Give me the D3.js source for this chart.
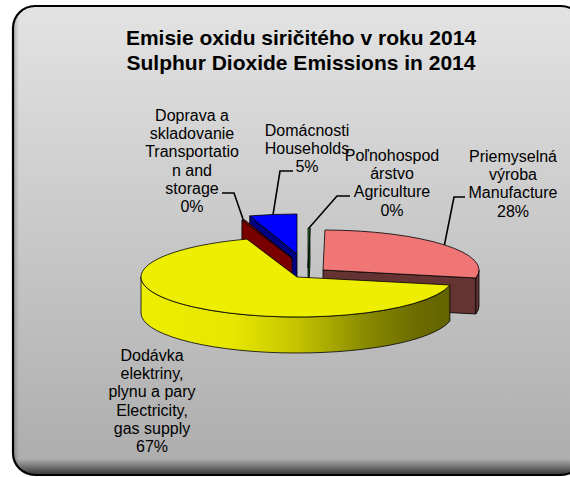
<!DOCTYPE html>
<html lang="en">
<head>
<meta charset="utf-8">
<title>Emisie oxidu siričitého 2014</title>
<script src="https://cdn.jsdelivr.net/npm/d3@7"></script>
<style>
  body { margin: 0; background: #fff; }
  text { font-family: "Liberation Sans", Arial, sans-serif; }
</style>
</head>
<body>
<script>
// data, clockwise from 12 o'clock
var titleLines = ["Emisie oxidu siričitého v roku 2014", "Sulphur Dioxide Emissions in 2014"];
var sectors = ["agriculture", "manufacture", "electricity", "transport", "households"];
var shares = [0.2, 28.0, 66.6, 0.3, 4.9];
var labelLines = [
    ["Poľnohospod", "árstvo", "Agriculture"],
    ["Priemyselná", "výroba", "Manufacture"],
    ["Dodávka", "elektriny,", "plynu a pary", "Electricity,", "gas supply"],
    ["Doprava a", "skladovanie", "Transportatio", "n and", "storage"],
    ["Domácnosti", "Households"]
];

// styling / layout
var w = 570, h = 477;
var cx = 297, cy = 277, rx = 156, ry = 40, depth = 36;
var style = {
    agriculture: {top: "#2e8b2e", side: "#005a00", off: [11, -9], lx: 392, ly: 161, leader: [[350, 196], [337, 196]]},
    manufacture: {top: "#f07676", side: "#663333", off: [26, -7], lx: 513, ly: 162, leader: [[465, 197], [454, 197]]},
    electricity: {top: "#eeee00", side: "url(#wallY)", off: [0, 0], lx: 152, ly: 361, leader: null},
    transport:   {top: "#8a0000", side: "#7a0000", off: [-5, -19], lx: 192, ly: 121, leader: [[222, 193], [234, 193]]},
    households:  {top: "#0000ff", side: "#000080", off: [0, -23], lx: 307, ly: 136, leader: [[293, 171], [280, 171]]}
};
var lineH = 18.2;

var svg = d3.select("body").append("svg")
    .attr("width", w)
    .attr("height", h);

var defs = svg.append("defs");
var bg = defs.append("linearGradient").attr("id", "bg")
    .attr("x1", 0).attr("y1", 0).attr("x2", 0).attr("y2", 1);
bg.append("stop").attr("offset", "0%").attr("stop-color", "#e3e3e3");
bg.append("stop").attr("offset", "100%").attr("stop-color", "#acacac");

var shade = defs.append("linearGradient").attr("id", "shade")
    .attr("x1", 0).attr("y1", 0).attr("x2", 0).attr("y2", 1);
shade.append("stop").attr("offset", "0%").attr("stop-color", "#000").attr("stop-opacity", 0);
shade.append("stop").attr("offset", "100%").attr("stop-color", "#000").attr("stop-opacity", 0.7);

var shadeL = defs.append("linearGradient").attr("id", "shadeL")
    .attr("x1", 0).attr("y1", 0).attr("x2", 1).attr("y2", 0);
shadeL.append("stop").attr("offset", "0%").attr("stop-color", "#000").attr("stop-opacity", 0.25);
shadeL.append("stop").attr("offset", "100%").attr("stop-color", "#000").attr("stop-opacity", 0);

var wallY = defs.append("linearGradient").attr("id", "wallY")
    .attr("gradientUnits", "userSpaceOnUse")
    .attr("x1", cx - rx).attr("y1", 0).attr("x2", cx + rx).attr("y2", 0);
[[0, "#eeee00"], [0.3, "#e6e600"], [0.5, "#c4c400"], [0.72, "#8a8a00"], [0.88, "#6c6c00"], [1, "#626200"]]
    .forEach(function(s) {
        wallY.append("stop").attr("offset", s[0]).attr("stop-color", s[1]);
    });

defs.append("clipPath").attr("id", "frameClip")
    .append("rect").attr("x", 13).attr("y", 6).attr("width", 570).attr("height", 469).attr("rx", 22);

// frame
svg.append("rect")
    .attr("x", 13).attr("y", 6).attr("width", 570).attr("height", 469).attr("rx", 22)
    .attr("fill", "url(#bg)");
var sh = svg.append("g").attr("clip-path", "url(#frameClip)");
sh.append("rect").attr("x", 13).attr("y", 459).attr("width", 570).attr("height", 16).attr("fill", "url(#shade)");
sh.append("rect").attr("x", 13).attr("y", 6).attr("width", 6).attr("height", 469).attr("fill", "url(#shadeL)");
svg.append("rect")
    .attr("x", 13).attr("y", 6).attr("width", 570).attr("height", 469).attr("rx", 22)
    .attr("fill", "none").attr("stroke", "#000").attr("stroke-width", 2.2);

// title
svg.selectAll("text.title")
    .data(titleLines)
    .enter()
    .append("text")
    .attr("class", "title")
    .attr("x", 301)
    .attr("y", function(d, i) { return 45 + i * 25; })
    .attr("text-anchor", "middle")
    .attr("font-size", "21px")
    .attr("font-weight", "bold")
    .attr("fill", "#000")
    .text(function(d) { return d; });

// pie geometry
var total = d3.sum(shares);
var arcs = d3.pie().sort(null).value(function(d) { return d; })(shares);

function pt(c, a) {
    return [c[0] + rx * Math.sin(a), c[1] - ry * Math.cos(a)];
}
function down(p) { return [p[0], p[1] + depth]; }

function topPath(c, a0, a1) {
    var p0 = pt(c, a0), p1 = pt(c, a1);
    var large = (a1 - a0) > Math.PI ? 1 : 0;
    return "M" + c + "L" + p0 + "A" + rx + "," + ry + " 0 " + large + " 1 " + p1 + "Z";
}
function wallPath(c, b0, b1) {
    var p0 = pt(c, b0), p1 = pt(c, b1);
    var large = (b1 - b0) > Math.PI ? 1 : 0;
    return "M" + p0 + "A" + rx + "," + ry + " 0 " + large + " 1 " + p1 +
        "L" + down(p1) + "A" + rx + "," + ry + " 0 " + large + " 0 " + down(p0) + "Z";
}
function facePath(c, a) {
    var p = pt(c, a);
    return "M" + c + "L" + p + "L" + down(p) + "L" + down(c) + "Z";
}

var slices = arcs.map(function(a, i) {
    var st = style[sectors[i]];
    var c = [cx + st.off[0], cy + st.off[1]];
    var mid = (a.startAngle + a.endAngle) / 2;
    return {i: i, a0: a.startAngle, a1: a.endAngle, c: c, mid: mid, st: st, rim: pt(c, mid)};
});

var order = slices.slice().sort(function(a, b) { return a.rim[1] - b.rim[1]; });

var pie = svg.append("g");
order.forEach(function(s) {
    var g = pie.append("g");
    var stroke = "#000", sw = 0.8;
    // radial faces
    if (Math.sin(s.a0) < -1e-6) {
        g.append("path").attr("d", facePath(s.c, s.a0))
            .attr("fill", s.st.side).attr("stroke", stroke).attr("stroke-width", sw).attr("stroke-linejoin", "round");
    }
    if (Math.sin(s.a1) > 1e-6) {
        g.append("path").attr("d", facePath(s.c, s.a1))
            .attr("fill", s.st.side).attr("stroke", stroke).attr("stroke-width", sw).attr("stroke-linejoin", "round");
    }
    // outer wall, front half only
    var b0 = Math.max(s.a0, Math.PI / 2), b1 = Math.min(s.a1, 3 * Math.PI / 2);
    if (b1 > b0) {
        g.append("path").attr("d", wallPath(s.c, b0, b1))
            .attr("fill", s.st.side).attr("stroke", stroke).attr("stroke-width", sw).attr("stroke-linejoin", "round");
    }
    g.append("path").attr("d", topPath(s.c, s.a0, s.a1))
        .attr("fill", s.st.top).attr("stroke", stroke).attr("stroke-width", sw).attr("stroke-linejoin", "round");
});

// leader lines
slices.forEach(function(s) {
    if (!s.st.leader) return;
    var pts = s.st.leader.concat([s.rim]);
    svg.append("polyline")
        .attr("points", pts.map(function(p) { return p.join(","); }).join(" "))
        .attr("fill", "none")
        .attr("stroke", "#000")
        .attr("stroke-width", 1.6);
});

// labels
slices.forEach(function(s) {
    var lines = labelLines[s.i].concat([Math.round(shares[s.i] / total * 100) + "%"]);
    var t = svg.append("text")
        .attr("text-anchor", "middle")
        .attr("font-size", "16px")
        .attr("fill", "#000");
    t.selectAll("tspan")
        .data(lines)
        .enter()
        .append("tspan")
        .attr("x", s.st.lx)
        .attr("y", function(d, k) { return s.st.ly + k * lineH; })
        .text(function(d) { return d; });
});
</script>
</body>
</html>
